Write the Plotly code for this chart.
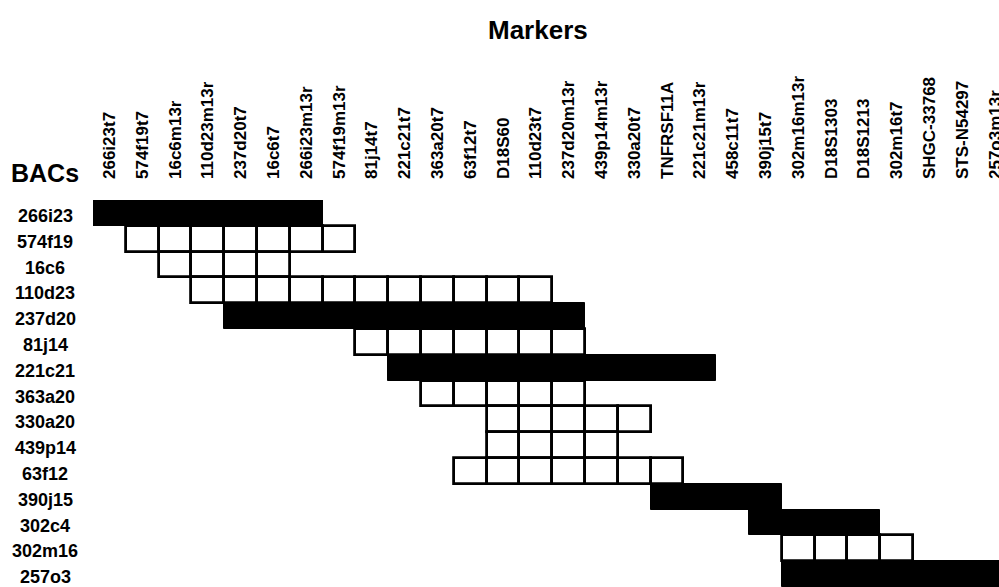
import plotly.graph_objects as go

# Marker columns (left to right) and BAC rows (top to bottom)
markers = [
    "266i23t7", "574f19t7", "16c6m13r", "110d23m13r", "237d20t7", "16c6t7",
    "266i23m13r", "574f19m13r", "81j14t7", "221c21t7", "363a20t7", "63f12t7",
    "D18S60", "110d23t7", "237d20m13r", "439p14m13r", "330a20t7", "TNFRSF11A",
    "221c21m13r", "458c11t7", "390j15t7", "302m16m13r", "D18S1303", "D18S1213",
    "302m16t7", "SHGC-33768", "STS-N54297", "257o3m13r",
]
bacs = [
    "266i23", "574f19", "16c6", "110d23", "237d20", "81j14", "221c21",
    "363a20", "330a20", "439p14", "63f12", "390j15", "302c4", "302m16", "257o3",
]
# first and last marker index contained in each BAC
bac_start = [0, 1, 2, 3, 4, 8, 9, 10, 12, 12, 11, 17, 20, 21, 21]
bac_end = [6, 7, 5, 13, 14, 14, 18, 14, 16, 15, 17, 20, 23, 24, 27]
# solid bar vs. individual open squares
bac_filled = [True, False, False, False, True, False, True, False, False,
              False, False, True, True, False, True]

FONT = "Liberation Sans, Arial, Helvetica, sans-serif"

W, H = 999, 587
ML, MT = 93, 200
COL_PX = 32.8
plot_w = W - ML

fig = go.Figure()

# open squares: one white cell per marker
oy, obase = [], []
for i, (s, e, f) in enumerate(zip(bac_start, bac_end, bac_filled)):
    if not f:
        for c in range(s, e + 1):
            oy.append(i)
            obase.append(c)
fig.add_trace(go.Bar(
    orientation="h", y=oy, x=[1] * len(oy), base=obase, width=1,
    marker=dict(color="white", line=dict(color="black", width=2.8)),
    hoverinfo="skip", showlegend=False,
))

# solid bars: one black span per BAC
fy, fbase, flen = [], [], []
for i, (s, e, f) in enumerate(zip(bac_start, bac_end, bac_filled)):
    if f:
        fy.append(i)
        fbase.append(s)
        flen.append(e - s + 1)
fig.add_trace(go.Bar(
    orientation="h", y=fy, x=flen, base=fbase, width=1,
    marker=dict(color="black", line=dict(color="black", width=1)),
    hoverinfo="skip", showlegend=False,
))

# BAC names centred in the left margin
label_x = (45 - ML) / plot_w
for i, name in enumerate(bacs):
    fig.add_annotation(
        x=label_x, xref="paper", y=i, yref="y", text=name, showarrow=False,
        xanchor="center", yanchor="middle", yshift=-3,
        font=dict(family=FONT, size=18, color="black", weight="bold"),
    )

fig.add_annotation(
    x=label_x, xref="paper", y=1 + (MT - 173) / (H - MT), yref="paper",
    text="BACs", showarrow=False, xanchor="center", yanchor="middle",
    font=dict(family=FONT, size=25, color="black", weight="bold"),
)
fig.add_annotation(
    x=(538 - ML) / plot_w, xref="paper", y=1 + (MT - 30) / (H - MT), yref="paper",
    text="Markers", showarrow=False, xanchor="center", yanchor="middle",
    font=dict(family=FONT, size=26, color="black", weight="bold"),
)

fig.update_layout(
    width=W, height=H,
    margin=dict(l=ML, r=0, t=MT, b=0, pad=0, autoexpand=False),
    paper_bgcolor="white", plot_bgcolor="white",
    barmode="overlay", bargap=0,
    xaxis=dict(
        range=[0, plot_w / COL_PX], side="top",
        tickmode="array", tickvals=[k + 0.5 for k in range(len(markers))],
        ticktext=markers, tickangle=-90,
        tickfont=dict(family=FONT, size=17, color="black", weight="bold"),
        showgrid=False, zeroline=False, showline=False, ticks="",
        ticklabelstandoff=20, ticklabeloverflow="allow",
        automargin=False, fixedrange=True,
    ),
    yaxis=dict(
        range=[len(bacs) - 0.5, -0.5], showticklabels=False,
        showgrid=False, zeroline=False, showline=False, ticks="",
        automargin=False, fixedrange=True,
    ),
)

# the last marker label runs past the right edge; keep the page from scrolling
fig.write_html(
    "out.html",
    config={"displayModeBar": False},
    post_script=(
        "document.documentElement.style.overflow='hidden';"
        "document.body.style.overflow='hidden';"
        "document.body.style.margin='0';"
    ),
)
